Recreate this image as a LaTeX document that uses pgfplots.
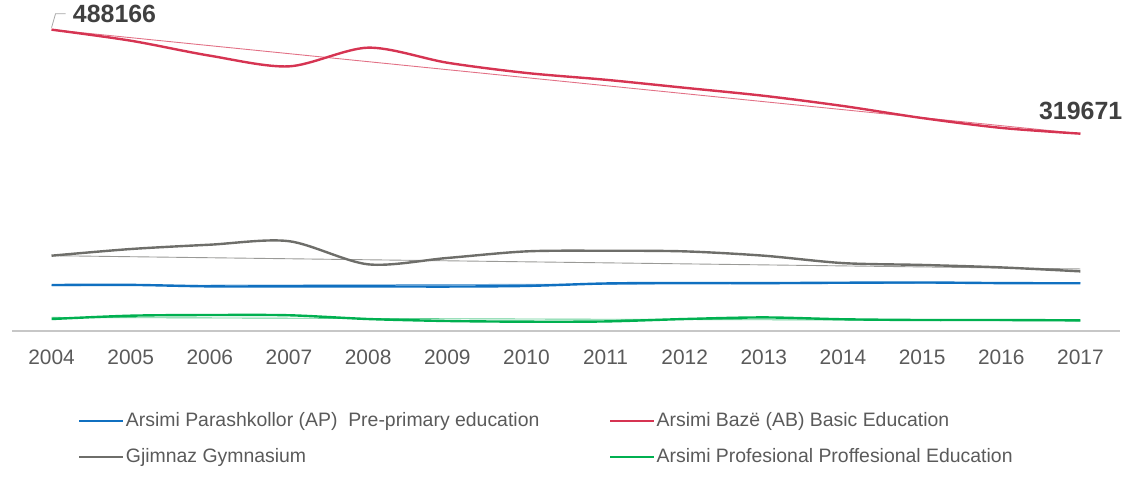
\documentclass[border=0pt]{standalone}
\usepackage{pgfplots}
\pgfplotsset{compat=1.18}
\usetikzlibrary{calc}
\usepackage{fontspec}
\setmainfont{Liberation Sans}
\definecolor{cRed}{RGB}{214,52,82}
\definecolor{cBlue}{RGB}{16,112,192}
\definecolor{cGray}{RGB}{110,110,106}
\definecolor{cGreen}{RGB}{0,176,80}
\definecolor{cText}{RGB}{90,90,90}
\definecolor{cLabel}{RGB}{64,64,64}
\begin{document}
\begin{tikzpicture}
\begin{axis}[
  scale only axis, width=1108bp, height=321bp,
  xmin=2003.5, xmax=2017.5, ymin=0, ymax=520000,
  axis x line*=bottom, axis y line=none,
  x axis line style={draw=black!22, line width=1.2bp, -},
  xtick={2004,2005,...,2017},
  xticklabels={2004,2005,2006,2007,2008,2009,2010,2011,2012,2013,2014,2015,2016,2017},
  major tick length=0pt,
  xticklabel style={font=\fontsize{21}{21}\selectfont, text=cText, yshift=-15bp},
  ytick=\empty,
  clip=false,
  legend columns=2,
  legend cell align=left,
  legend style={draw=none, fill=none, inner sep=0pt, at={(rel axis cs:0.0596,-0.337)}, anchor=west,
    font=\fontsize{19.5}{19.5}\selectfont, text=cText,
    nodes={inner xsep=1.5bp, inner ysep=0pt, text height=14bp, text depth=4bp},
    row sep=18bp,
    /tikz/every even column/.append style={column sep=68bp}},
  legend image code/.code={\draw[#1, line width=2.2bp] (0bp,0bp) -- (44bp,0bp);},
  every axis plot/.append style={smooth, tension=0.5, line width=2.4bp},
]
% trend lines
\addplot[forget plot, cRed!70, line width=0.9bp, sharp plot] coordinates {(2004,488166) (2017,319671)};
\addplot[forget plot, cGray!70, line width=0.9bp, sharp plot] coordinates {(2004,122000) (2017,100500)};
\addplot[forget plot, cBlue!60, line width=0.9bp, sharp plot] coordinates {(2004,73500) (2017,78000)};
\addplot[forget plot, cGreen!60, line width=0.9bp, sharp plot] coordinates {(2004,22000) (2017,16500)};
% main series
\addplot[cBlue] coordinates {
 (2004,74500) (2005,74700) (2006,72300) (2007,72300) (2008,72300) (2009,72000) (2010,73000)
 (2011,77000) (2012,77800) (2013,77600) (2014,78200) (2015,78600) (2016,77600) (2017,77300)};
\addlegendentry{Arsimi Parashkollor (AP)\ \ Pre-primary education}
\addplot[cRed] coordinates {
 (2004,488166) (2005,470300) (2006,446000) (2007,428700) (2008,459000) (2009,434600) (2010,418000)
 (2011,407000) (2012,394000) (2013,381000) (2014,364500) (2015,345000) (2016,329000) (2017,319671)};
\addlegendentry{Arsimi Bazë (AB) Basic Education}
\addplot[cGray] coordinates {
 (2004,122000) (2005,132800) (2006,139800) (2007,145500) (2008,108000) (2009,118300) (2010,129000)
 (2011,130000) (2012,129000) (2013,122000) (2014,110000) (2015,107000) (2016,103000) (2017,96600)};
\addlegendentry{Gjimnaz Gymnasium}
\addplot[cGreen] coordinates {
 (2004,19400) (2005,24800) (2006,25900) (2007,25500) (2008,19400) (2009,16200) (2010,15100)
 (2011,15500) (2012,19400) (2013,22000) (2014,19000) (2015,17800) (2016,17800) (2017,17200)};
\addlegendentry{Arsimi Profesional Proffesional Education}
% data labels
\draw[black!35, line width=0.8bp] (axis cs:2004,488166) ++(0bp,2bp) -- ++(4bp,14bp) -- ++(10bp,0bp)
  node[anchor=west, inner sep=0pt, xshift=7bp, font=\fontsize{25}{25}\selectfont\bfseries, text=cLabel] {488166};
\node[anchor=base east, inner sep=0pt, font=\fontsize{25}{25}\selectfont\bfseries, text=cLabel]
  at ([shift={(42bp,14bp)}]axis cs:2017,319671) {319671};
\coordinate (O) at (rel axis cs:0,0);
\end{axis}
\path[use as bounding box] ($(O)+(-12bp,-160bp)$) rectangle ($(O)+(1121bp,331bp)$);
\end{tikzpicture}
\end{document}
